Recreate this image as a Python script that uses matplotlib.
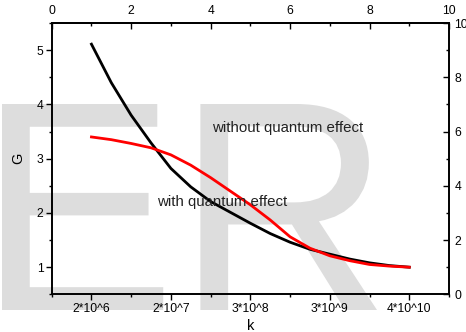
import matplotlib.pyplot as plt
from matplotlib.ticker import MultipleLocator
from matplotlib.textpath import TextPath
from matplotlib.font_manager import FontProperties
from matplotlib.patches import PathPatch
from matplotlib.transforms import Affine2D

plt.rcParams['font.family'] = ['Liberation Sans', 'DejaVu Sans']

# curve positions on the 0-10 axis and G values
xpos = [1.0, 1.5, 2.0, 2.5, 3.0, 3.5, 4.0, 4.5, 5.0, 5.5, 6.0, 6.5, 7.0, 7.5, 8.0, 8.5, 9.0]
g_without = [5.11, 4.40, 3.80, 3.29, 2.82, 2.48, 2.21, 2.01, 1.81, 1.62, 1.46, 1.33, 1.24, 1.15, 1.08, 1.03, 1.00]
g_with = [3.40, 3.35, 3.28, 3.20, 3.07, 2.88, 2.65, 2.40, 2.15, 1.87, 1.56, 1.35, 1.21, 1.12, 1.05, 1.02, 1.00]

k_pos = [1, 3, 5, 7, 9]
k_labels = ['2*10^6', '2*10^7', '3*10^8', '3*10^9', '4*10^10']

W, H = 466, 332
fig = plt.figure(figsize=(W / 100, H / 100), dpi=100)

# big grey "ER" watermark, fitted into its box (pixels: x 2..377, y 104..310 from top)
tp = TextPath((0, 0), 'ER', size=1, prop=FontProperties(family='Liberation Sans'))
ext = tp.get_extents()
fx0, fx1 = 2 / W, 377 / W
fy0, fy1 = (H - 310) / H, (H - 104) / H
wm_tr = (Affine2D().translate(-ext.x0, -ext.y0)
         .scale((fx1 - fx0) / ext.width, (fy1 - fy0) / ext.height)
         .translate(fx0, fy0) + fig.transFigure)
fig.add_artist(PathPatch(tp, transform=wm_tr, facecolor='#dddddd',
                         edgecolor='none', zorder=-1))

ax = fig.add_axes([0.111, 0.1135, 0.8525, 0.8172])
ax.set_facecolor('none')
ax.plot(xpos, g_without, color='black', lw=2)
ax.plot(xpos, g_with, color='red', lw=2)

ax.set_xlim(0, 10)
ax.set_ylim(0.5, 5.5)
ax.set_xticks(k_pos)
ax.set_xticklabels(k_labels)
ax.xaxis.set_minor_locator(MultipleLocator(2))
ax.yaxis.set_major_locator(MultipleLocator(1))
ax.yaxis.set_minor_locator(MultipleLocator(0.5))
ax.tick_params(which='major', direction='out', length=4, width=1, labelsize=8.7, pad=2)
ax.tick_params(which='minor', direction='out', length=2.5, width=1)
ax.set_xlabel('k', fontsize=10.5, labelpad=3)
ax.set_ylabel('G', fontsize=10.5, labelpad=8)

top = ax.secondary_xaxis('top')
top.set_xticks([0, 2, 4, 6, 8, 10])
top.xaxis.set_minor_locator(MultipleLocator(1))
top.tick_params(which='major', direction='in', length=4, width=1, labelsize=8.7, pad=4)
top.tick_params(which='minor', direction='in', length=2.5, width=1)

right = ax.twinx()
right.set_ylim(0, 10)
right.yaxis.set_major_locator(MultipleLocator(2))
right.yaxis.set_minor_locator(MultipleLocator(1))
right.tick_params(which='major', direction='in', length=4, width=1, labelsize=8.7, pad=4)
right.tick_params(which='minor', direction='in', length=2.5, width=1)

for a in (ax, right):
    for s in a.spines.values():
        s.set_linewidth(1.2)
top.spines['top'].set_linewidth(1.2)

ax.text(4.03, 3.50, 'without quantum effect', fontsize=10.8, color='#222222')
ax.text(2.64, 2.13, 'with quantum effect', fontsize=10.8, color='#222222')

fig.savefig('out.png', dpi=100)
